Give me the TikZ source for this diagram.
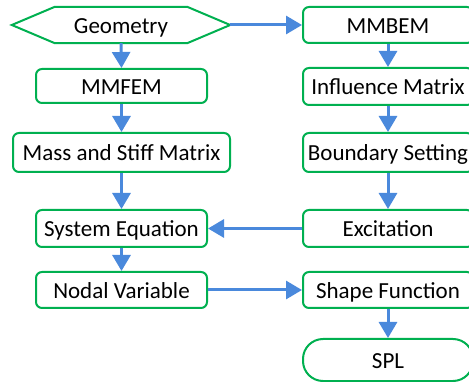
\documentclass[tikz,border=0pt]{standalone}
\usepackage{fontspec}
\setmainfont{Carlito}
\usetikzlibrary{arrows.meta,shapes.symbols,calc}
\definecolor{boxgreen}{HTML}{00B050}
\definecolor{arrblue}{HTML}{4A89DC}
\begin{document}
\begin{tikzpicture}[x=1pt,y=-1pt,
  every node/.style={font=\fontsize{23}{27}\selectfont, text=black, inner sep=0pt, text height=21pt, text depth=4pt},
  box/.style={draw=boxgreen, line width=2pt, rounded corners=6pt, minimum width=171pt},
  flow/.style={draw=arrblue, line width=3pt, -{Triangle[width=18pt,length=16pt]}}]
\useasboundingbox (0,0) rectangle (469,382);
% left column
\node[draw=none, minimum width=218pt, minimum height=36pt] (geo) at (121,25) {Geometry};
\draw[boxgreen, line width=2pt, line join=miter]
  (geo.west) -- ($(geo.north west)+(43,0)$) -- ($(geo.north east)+(-43,0)$) -- (geo.east)
  -- ($(geo.south east)+(-43,0)$) -- ($(geo.south west)+(43,0)$) -- cycle;
\node[box, minimum height=34pt] (mmfem) at (121.5,86) {MMFEM};
\node[box, minimum width=217pt, minimum height=39pt] (mass) at (121.5,152.5) {Mass and Stiff Matrix};
\node[box, minimum height=37pt] (syseq) at (121.5,228.5) {System Equation};
\node[box, minimum height=36pt] (nodal) at (121.5,290) {Nodal Variable};
% right column
\node[box, minimum width=170pt, minimum height=36pt] (mmbem) at (388,25) {MMBEM};
\node[box, minimum width=170pt, minimum height=37pt] (infl) at (388,86.5) {Influence Matrix};
\node[box, minimum width=170pt, minimum height=39pt] (bound) at (388,152.5) {Boundary Setting};
\node[box, minimum width=170pt, minimum height=37pt] (exc) at (388,228.5) {Excitation};
\node[box, minimum width=170pt, minimum height=36pt] (shape) at (388,290) {Shape Function};
\node[box, rounded corners=20pt, minimum width=170pt, minimum height=42pt] (spl) at (388,360) {SPL};
% connectors
\draw[flow] (geo.south) -- (mmfem.north);
\draw[flow] (mmfem.south) -- (mass.north);
\draw[flow] (mass.south) -- (syseq.north);
\draw[flow] (syseq.south) -- (nodal.north);
\draw[flow] (geo.east) -- (mmbem.west);
\draw[flow] (mmbem.south) -- (infl.north);
\draw[flow] (infl.south) -- (bound.north);
\draw[flow] (bound.south) -- (exc.north);
\draw[flow] (exc.west) -- (syseq.east);
\draw[flow] (nodal.east) -- (shape.west);
\draw[flow] (shape.south) -- (spl.north);
\end{tikzpicture}
\end{document}
